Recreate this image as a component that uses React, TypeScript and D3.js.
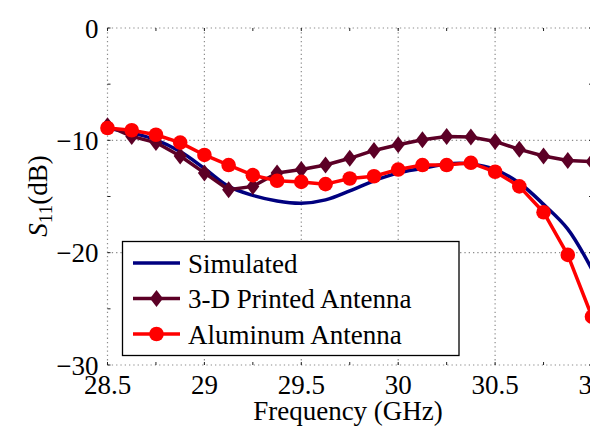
import React from "react";
import * as d3 from "d3";

// frequency samples (GHz), marker spacing 0.125 GHz
const freqs = [
  28.5, 28.625, 28.75, 28.875, 29, 29.125, 29.25, 29.375, 29.5, 29.625, 29.75,
  29.875, 30, 30.125, 30.25, 30.375, 30.5, 30.625, 30.75, 30.875, 31,
];
const simulated = [
  -8.9, -9.35, -9.95, -11.0, -12.5, -14.1, -14.9, -15.4, -15.6, -15.3, -14.5,
  -13.6, -12.9, -12.5, -12.1, -12.1, -12.6, -13.8, -15.7, -17.9, -21.5,
];
const printed3d = [
  -8.7, -9.65, -10.2, -11.4, -12.9, -14.4, -14.1, -12.9, -12.6, -12.2, -11.6,
  -10.9, -10.4, -9.95, -9.65, -9.7, -10.1, -10.8, -11.4, -11.8, -11.9,
];
const aluminum = [
  -8.9, -9.1, -9.5, -10.2, -11.3, -12.2, -13.1, -13.6, -13.7, -13.9, -13.4,
  -13.2, -12.6, -12.2, -12.2, -12.0, -12.8, -14.1, -16.4, -20.2, -25.7,
];
const xTicks = [28.5, 29, 29.5, 30, 30.5, 31];
const xTickLabels = ["28.5", "29", "29.5", "30", "30.5", "31"];
const yTicks = [0, -10, -20, -30];
const yTickLabels = ["0", "\u221210", "\u221220", "\u221230"];
const legendLabels = ["Simulated", "3-D Printed Antenna", "Aluminum Antenna"];

const W = 598;
const H = 436;
const margin = { left: 99.5, right: 14, top: 20, bottom: 79 };

const cSim = "#00007f";
const c3d = "#5c0026";
const cAl = "#ff0000";

const diamond = (cx: number, cy: number) =>
  `M${cx},${cy - 8.5}L${cx + 6.5},${cy}L${cx},${cy + 8.5}L${cx - 6.5},${cy}Z`;

export default function App() {
  const x = d3.scaleLinear().domain([28.5, 31]).range([margin.left, W - margin.right]);
  const y = d3.scaleLinear().domain([-30, 0]).range([H - margin.bottom, margin.top]);
  const [x0, x1] = x.range();
  const [y1, y0] = y.range();
  const xMinor = d3.range(28.5, 31.001, 0.25);
  const yMinor = d3.range(-30, 0.001, 5);

  const line = d3.line<number>().x((d, i) => x(freqs[i])).y((d) => y(d));
  const smooth = d3.line<number>().x((d, i) => x(freqs[i])).y((d) => y(d)).curve(d3.curveCatmullRom);

  const rows = [255, 290.5, 326];
  const colors = [cSim, c3d, cAl];

  return (
    <svg width={W} height={H}>
      {/* dotted grid, also the frame */}
      <g stroke="#8c8c8c" strokeWidth={1.2} strokeDasharray="1.3 3">
        {xTicks.map((d) => <line key={"gx" + d} x1={x(d)} x2={x(d)} y1={y0} y2={y1} />)}
        {yTicks.map((d) => <line key={"gy" + d} x1={x0} x2={x1} y1={y(d)} y2={y(d)} />)}
      </g>
      <g stroke="#222" strokeWidth={1}>
        {xMinor.map((d) => <line key={"tb" + d} x1={x(d)} x2={x(d)} y1={y1} y2={y1 - 3} />)}
        {xMinor.map((d) => <line key={"tt" + d} x1={x(d)} x2={x(d)} y1={y0} y2={y0 + 3} />)}
        {yMinor.map((d) => <line key={"tl" + d} x1={x0} x2={x0 + 3} y1={y(d)} y2={y(d)} />)}
        {yMinor.map((d) => <line key={"tr" + d} x1={x1} x2={x1 - 3} y1={y(d)} y2={y(d)} />)}
      </g>

      {xTicks.map((d, i) => (
        <text key={"xl" + d} x={x(d)} y={y1 + 29} textAnchor="middle" fontSize={27}
          style={{ fontFamily: "Liberation Serif" }}>{xTickLabels[i]}</text>
      ))}
      {yTicks.map((d, i) => (
        <text key={"yl" + d} x={x0 - 9} y={y(d) + 9.5} textAnchor="end" fontSize={27}
          style={{ fontFamily: "Liberation Serif" }}>{yTickLabels[i]}</text>
      ))}

      <text x={340} y={412} textAnchor="middle" fontSize={27} style={{ fontFamily: "Liberation Serif" }}>
        Frequency (GHz)
      </text>
      <text transform="translate(39,188) rotate(-90)" textAnchor="middle" fontSize={27}
        style={{ fontFamily: "Liberation Serif" }}>
        <tspan fontStyle="italic">S</tspan>
        <tspan dy={5} fontSize={19}>11</tspan>
        <tspan dy={-5}>(dB)</tspan>
      </text>

      <path d={smooth(simulated) ?? ""} fill="none" stroke={cSim} strokeWidth={3.5} />

      <path d={line(printed3d) ?? ""} fill="none" stroke={c3d} strokeWidth={3.5} strokeLinejoin="round" />
      {printed3d.map((d, i) => <path key={"dm" + i} d={diamond(x(freqs[i]), y(d))} fill={c3d} />)}

      <path d={line(aluminum) ?? ""} fill="none" stroke={cAl} strokeWidth={3.5} strokeLinejoin="round" />
      {aluminum.map((d, i) => <circle key={"al" + i} cx={x(freqs[i])} cy={y(d)} r={7.3} fill={cAl} />)}

      {/* legend */}
      <rect x={114.5} y={233.5} width={336.5} height={114} fill="white" stroke="black" strokeWidth={1.3} />
      {rows.map((ry, i) => (
        <g key={"lg" + i}>
          <line x1={125} x2={172} y1={ry} y2={ry} stroke={colors[i]} strokeWidth={3.5} />
          {i === 1 && <path d={diamond(148.5, ry)} fill={c3d} />}
          {i === 2 && <circle cx={148.5} cy={ry} r={7.3} fill={cAl} />}
          <text x={180} y={ry + 9.5} fontSize={27} style={{ fontFamily: "Liberation Serif" }}>
            {legendLabels[i]}
          </text>
        </g>
      ))}
    </svg>
  );
}
